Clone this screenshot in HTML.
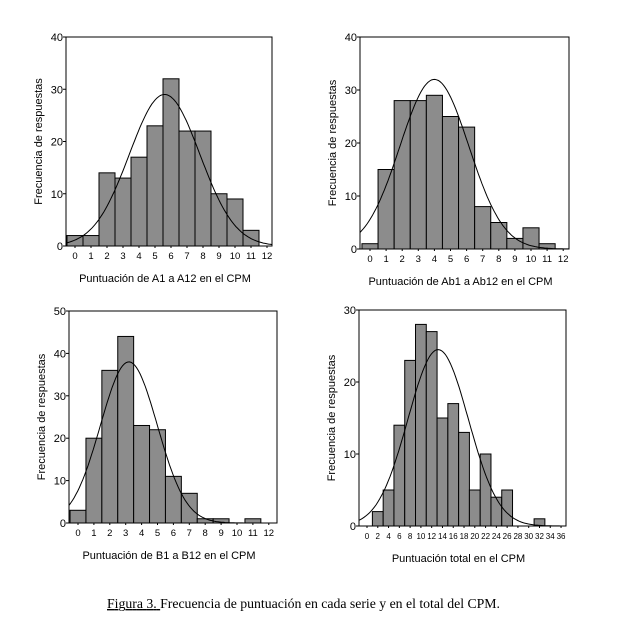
<!DOCTYPE html>
<html><head><meta charset="utf-8"><style>
body{margin:0;background:#fff;width:621px;height:628px;overflow:hidden}
svg text{font-family:"Liberation Sans",sans-serif;fill:#000}
</style></head><body>
<svg id="s" width="621" height="628" viewBox="0 0 621 628" xmlns="http://www.w3.org/2000/svg">
<text x="107" y="608" style="font-family:'Liberation Serif',serif;font-size:13.8px" textLength="393"><tspan text-decoration="underline">Figura 3. </tspan>Frecuencia de puntuación en cada serie y en el total del CPM.</text>
</svg>
<script>
// Chart A: A1..A12
const catsA=[0,1,2,3,4,5,6,7,8,9,10,11,12];
const valsA=[2,2,14,13,17,23,32,22,22,10,9,3,0];
const normA=[5.6,2.2,29];
// Chart Ab
const catsAb=[0,1,2,3,4,5,6,7,8,9,10,11,12];
const valsAb=[1,15,28,28,29,25,23,8,5,2,4,1,0];
const normAb=[4.0,2.14,32];
// Chart B
const catsB=[0,1,2,3,4,5,6,7,8,9,10,11,12];
const valsB=[3,20,36,44,23,22,11,7,1,1,0,1,0];
const normB=[3.2,1.79,38];
// Chart total
const catsT=[2,4,6,8,10,12,14,16,18,20,22,24,26,28,30,32];
const valsT=[2,5,14,23,28,27,15,17,13,5,10,4,5,0,0,1];
const normT=[13.2,5.6,24.5];
const ticksA=[0,1,2,3,4,5,6,7,8,9,10,11,12];
const ticksT=[0,2,4,6,8,10,12,14,16,18,20,22,24,26,28,30,32,34,36];
const yTicks40=[0,10,20,30,40], yTicks50=[0,10,20,30,40,50], yTicks30=[0,10,20,30];

const svg=document.getElementById('s');
const NS='http://www.w3.org/2000/svg';
function mk(tag,attrs,parent){const e=document.createElementNS(NS,tag);for(const k in attrs)e.setAttribute(k,attrs[k]);(parent||svg).appendChild(e);return e;}

function chart(id,box,x0px,unit,ymax,yTicks,cats,vals,bw,xTicks,norm,xtitle,xfs){
  const g=mk('g',{});
  
  
  const [L,T,R,B]=box;
  const xs=v=>x0px+v*unit;
  const ys=v=>B-(v/ymax)*(B-T);
  const frame=mk('rect',{x:L,y:T,width:R-L,height:B-T,fill:'none',stroke:'#000','stroke-width':1},g);
  
  
  cats.forEach((c,i)=>{
    if(vals[i]<=0)return;
    const r=mk('rect',{x:xs(c-bw/2),y:ys(vals[i]),width:bw*unit,height:B-ys(vals[i]),fill:'#8c8c8c',stroke:'#000','stroke-width':1},g);
    
    
  });
  const [m,s,pk]=norm;let d='';
  const xmin=(L-x0px)/unit,xmax=(R-x0px)/unit;
  for(let k=0;k<=120;k++){const x=xmin+(xmax-xmin)*k/120;const y=pk*Math.exp(-(x-m)*(x-m)/(2*s*s));d+=(k?'L':'M')+xs(x).toFixed(1)+','+ys(y).toFixed(1);}
  const p=mk('path',{d:d,fill:'none',stroke:'#000','stroke-width':1},g);
  
  
  yTicks.forEach(t=>{
    mk('line',{x1:L-3,x2:L,y1:ys(t),y2:ys(t),stroke:'#000'},g);
    const tx=mk('text',{x:L-3,y:ys(t)+4,'text-anchor':'end','font-size':11},g);
    tx.textContent=t;
    
    
  });
  xTicks.forEach(t=>{
    mk('line',{x1:xs(t),x2:xs(t),y1:B,y2:B+2,stroke:'#000'},g);
    const tx=mk('text',{x:xs(t),y:B+13,'text-anchor':'middle','font-size':xfs},g);
    tx.textContent=t;
    
    
  });
  const xt=mk('text',{x:(L+R)/2-4,y:B+36,'text-anchor':'middle','font-size':11},g);
  xt.textContent=xtitle;
  
  
  const cy=(T+B)/2,cx=L-24;
  const yt=mk('text',{x:cx,y:cy,'text-anchor':'middle','font-size':11,transform:`rotate(-90 ${cx} ${cy})`},g);
  yt.textContent='Frecuencia de respuestas';
  
  
}
chart('chart-a1-a12',[66,37,272,246],75,16,40,yTicks40,catsA,valsA,1,ticksA,normA,'Puntuación de A1 a A12 en el CPM',9.5);
chart('chart-ab1-ab12',[360,37,569,249],370,16.1,40,yTicks40,catsAb,valsAb,1,ticksA,normAb,'Puntuación de Ab1 a Ab12 en el CPM',9.5);
chart('chart-b1-b12',[69,311,277,523],78,15.9,50,yTicks50,catsB,valsB,1,ticksA,normB,'Puntuación de B1 a B12 en el CPM',9.5);
chart('chart-total',[359,310,566,526],367,5.39,30,yTicks30,catsT,valsT,2,ticksT,normT,'Puntuación total en el CPM',8);
</script>
</body></html>
